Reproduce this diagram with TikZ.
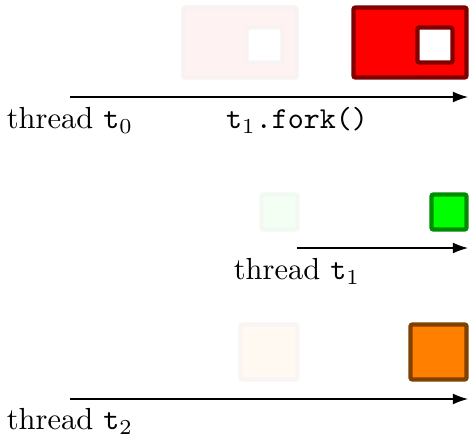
\documentclass[tikz,border=0pt]{standalone}
\usetikzlibrary{arrows.meta}
\begin{document}
\begin{tikzpicture}[x=0.328pt,y=-0.328pt,
  tline/.style={line width=0.4pt,-{Latex[length=5pt,width=3.6pt]}},
  lbl/.style={anchor=north,inner sep=3.33pt},
  redbox/.style={fill=red,draw=red!50!black,line width=1.45pt,rounded corners=0.7pt},
  redhole/.style={fill=white,draw=red!50!black,line width=1.45pt,rounded corners=0.7pt},
  greenbox/.style={fill=green,draw=green!55!black,line width=1.45pt,rounded corners=0.7pt},
  orangebox/.style={fill=orange,draw=orange!50!black,line width=1.45pt,rounded corners=0.7pt},
  ghost/.style={transparency group,opacity=0.05}]
\useasboundingbox (0,0) rectangle (469,435);
% top row: thread t0
\coordinate (a0) at (70,97);
\coordinate (f0) at (297,97);
\coordinate (e0) at (468,97);
\draw[tline] (a0) -- (e0);
\node[lbl] (l0) at (a0) {thread \texttt{t}$_0$};
\node[lbl] (lf) at (f0) {\texttt{t}$_1$\texttt{.fork()}};
\begin{scope}[ghost]
  \draw[redbox] (183.5,7.5) rectangle (296.5,77.5);
  \draw[redhole] (246.5,27.5) rectangle (282.5,62.5);
\end{scope}
\draw[redbox] (353.5,7.5) rectangle (466.5,77.5);
\draw[redhole] (417.5,27.5) rectangle (452.5,62.5);
% middle row: thread t1
\coordinate (a1) at (297,248);
\coordinate (e1) at (468,248);
\draw[tline] (a1) -- (e1);
\node[lbl] (l1) at (a1) {thread \texttt{t}$_1$};
\begin{scope}[ghost]
  \draw[greenbox] (261.5,194.5) rectangle (297.5,229.5);
\end{scope}
\draw[greenbox] (431.5,194.5) rectangle (466.5,229.5);
% bottom row: thread t2
\coordinate (a2) at (70,399);
\coordinate (e2) at (468,399);
\draw[tline] (a2) -- (e2);
\node[lbl,inner sep=2.9pt] (l2) at (a2) {thread \texttt{t}$_2$};
\begin{scope}[ghost]
  \draw[orangebox] (240.5,324.5) rectangle (297.5,379.5);
\end{scope}
\draw[orangebox] (410.5,324.5) rectangle (466.5,379.5);
\end{tikzpicture}
\end{document}
